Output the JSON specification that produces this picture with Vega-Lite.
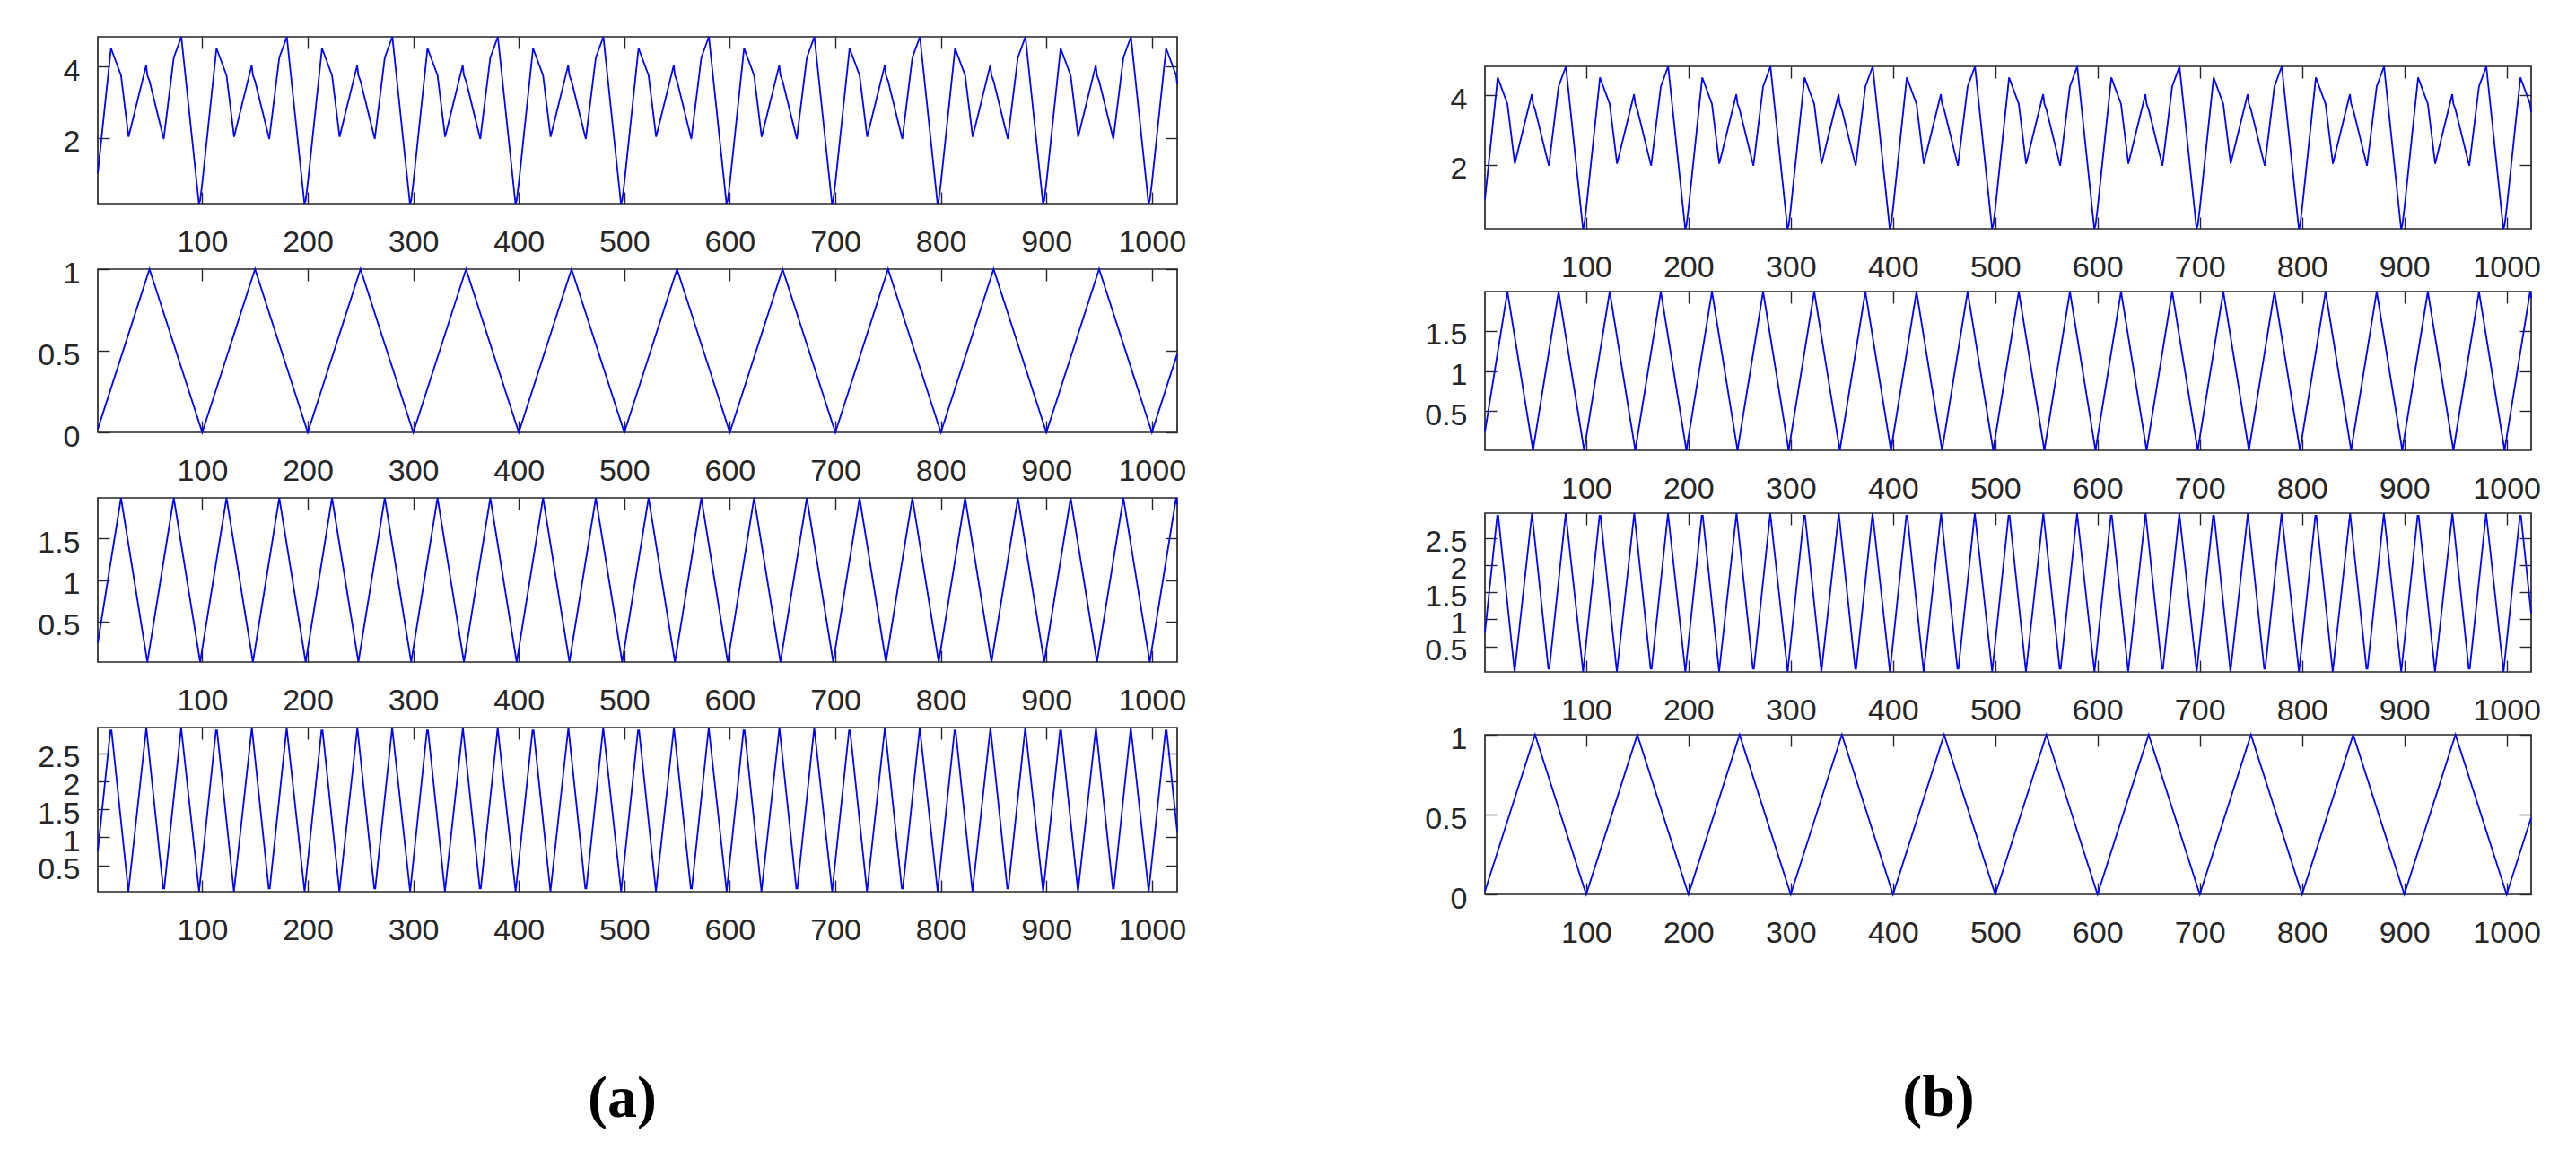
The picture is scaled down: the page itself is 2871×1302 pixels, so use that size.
{
  "$schema": "https://vega.github.io/schema/vega-lite/v6.json",
  "padding": {"left": 40, "top": 36, "right": 5, "bottom": 5},
  "datasets": {
    "S": [
      {"x":1,"y":1.01},
      {"x":13.5,"y":4.51},{"x":23,"y":3.75},{"x":30.17,"y":2.03},{"x":46.83,"y":4.03},{"x":48,"y":3.75},{"x":50,"y":3.59},{"x":63.5,"y":1.97},{"x":73,"y":4.25},{"x":80.17,"y":4.83},{"x":96.83,"y":0.16},{"x":98,"y":0.25},{"x":100,"y":0.73},
      {"x":113.5,"y":4.51},{"x":123,"y":3.75},{"x":130.17,"y":2.03},{"x":146.83,"y":4.03},{"x":148,"y":3.75},{"x":150,"y":3.59},{"x":163.5,"y":1.97},{"x":173,"y":4.25},{"x":180.17,"y":4.83},{"x":196.83,"y":0.16},{"x":198,"y":0.25},{"x":200,"y":0.73},
      {"x":213.5,"y":4.51},{"x":223,"y":3.75},{"x":230.17,"y":2.03},{"x":246.83,"y":4.03},{"x":248,"y":3.75},{"x":250,"y":3.59},{"x":263.5,"y":1.97},{"x":273,"y":4.25},{"x":280.17,"y":4.83},{"x":296.83,"y":0.16},{"x":298,"y":0.25},{"x":300,"y":0.73},
      {"x":313.5,"y":4.51},{"x":323,"y":3.75},{"x":330.17,"y":2.03},{"x":346.83,"y":4.03},{"x":348,"y":3.75},{"x":350,"y":3.59},{"x":363.5,"y":1.97},{"x":373,"y":4.25},{"x":380.17,"y":4.83},{"x":396.83,"y":0.16},{"x":398,"y":0.25},{"x":400,"y":0.73},
      {"x":413.5,"y":4.51},{"x":423,"y":3.75},{"x":430.17,"y":2.03},{"x":446.83,"y":4.03},{"x":448,"y":3.75},{"x":450,"y":3.59},{"x":463.5,"y":1.97},{"x":473,"y":4.25},{"x":480.17,"y":4.83},{"x":496.83,"y":0.16},{"x":498,"y":0.25},{"x":500,"y":0.73},
      {"x":513.5,"y":4.51},{"x":523,"y":3.75},{"x":530.17,"y":2.03},{"x":546.83,"y":4.03},{"x":548,"y":3.75},{"x":550,"y":3.59},{"x":563.5,"y":1.97},{"x":573,"y":4.25},{"x":580.17,"y":4.83},{"x":596.83,"y":0.16},{"x":598,"y":0.25},{"x":600,"y":0.73},
      {"x":613.5,"y":4.51},{"x":623,"y":3.75},{"x":630.17,"y":2.03},{"x":646.83,"y":4.03},{"x":648,"y":3.75},{"x":650,"y":3.59},{"x":663.5,"y":1.97},{"x":673,"y":4.25},{"x":680.17,"y":4.83},{"x":696.83,"y":0.16},{"x":698,"y":0.25},{"x":700,"y":0.73},
      {"x":713.5,"y":4.51},{"x":723,"y":3.75},{"x":730.17,"y":2.03},{"x":746.83,"y":4.03},{"x":748,"y":3.75},{"x":750,"y":3.59},{"x":763.5,"y":1.97},{"x":773,"y":4.25},{"x":780.17,"y":4.83},{"x":796.83,"y":0.16},{"x":798,"y":0.25},{"x":800,"y":0.73},
      {"x":813.5,"y":4.51},{"x":823,"y":3.75},{"x":830.17,"y":2.03},{"x":846.83,"y":4.03},{"x":848,"y":3.75},{"x":850,"y":3.59},{"x":863.5,"y":1.97},{"x":873,"y":4.25},{"x":880.17,"y":4.83},{"x":896.83,"y":0.16},{"x":898,"y":0.25},{"x":900,"y":0.73},
      {"x":913.5,"y":4.51},{"x":923,"y":3.75},{"x":930.17,"y":2.03},{"x":946.83,"y":4.03},{"x":948,"y":3.75},{"x":950,"y":3.59},{"x":963.5,"y":1.97},{"x":973,"y":4.25},{"x":980.17,"y":4.83},{"x":996.83,"y":0.16},{"x":998,"y":0.25},{"x":1000,"y":0.73},
      {"x":1013.5,"y":4.51},{"x":1023,"y":3.75},{"x":1024,"y":3.51}
    ],
    "T1": [
      {"x":1,"y":0.02},{"x":50,"y":1},{"x":100,"y":0},{"x":150,"y":1},{"x":200,"y":0},{"x":250,"y":1},{"x":300,"y":0},{"x":350,"y":1},{"x":400,"y":0},{"x":450,"y":1},{"x":500,"y":0},{"x":550,"y":1},{"x":600,"y":0},{"x":650,"y":1},{"x":700,"y":0},{"x":750,"y":1},{"x":800,"y":0},{"x":850,"y":1},{"x":900,"y":0},{"x":950,"y":1},{"x":1000,"y":0},{"x":1024,"y":0.48}
    ],
    "T2": [
      {"x":1,"y":0.24},
      {"x":23,"y":1.99},{"x":48,"y":0.01},{"x":73,"y":1.99},{"x":98,"y":0.01},
      {"x":123,"y":1.99},{"x":148,"y":0.01},{"x":173,"y":1.99},{"x":198,"y":0.01},
      {"x":223,"y":1.99},{"x":248,"y":0.01},{"x":273,"y":1.99},{"x":298,"y":0.01},
      {"x":323,"y":1.99},{"x":348,"y":0.01},{"x":373,"y":1.99},{"x":398,"y":0.01},
      {"x":423,"y":1.99},{"x":448,"y":0.01},{"x":473,"y":1.99},{"x":498,"y":0.01},
      {"x":523,"y":1.99},{"x":548,"y":0.01},{"x":573,"y":1.99},{"x":598,"y":0.01},
      {"x":623,"y":1.99},{"x":648,"y":0.01},{"x":673,"y":1.99},{"x":698,"y":0.01},
      {"x":723,"y":1.99},{"x":748,"y":0.01},{"x":773,"y":1.99},{"x":798,"y":0.01},
      {"x":823,"y":1.99},{"x":848,"y":0.01},{"x":873,"y":1.99},{"x":898,"y":0.01},
      {"x":923,"y":1.99},{"x":948,"y":0.01},{"x":973,"y":1.99},{"x":998,"y":0.01},
      {"x":1023,"y":1.99},{"x":1024,"y":1.91}
    ],
    "T3": [
      {"x":1,"y":0.75},
      {"x":13,"y":2.91},{"x":14,"y":2.91},{"x":30,"y":0.03},{"x":47,"y":2.96},{"x":63,"y":0.09},{"x":64,"y":0.09},{"x":80,"y":2.96},{"x":97,"y":0.03},
      {"x":113,"y":2.91},{"x":114,"y":2.91},{"x":130,"y":0.03},{"x":147,"y":2.96},{"x":163,"y":0.09},{"x":164,"y":0.09},{"x":180,"y":2.96},{"x":197,"y":0.03},
      {"x":213,"y":2.91},{"x":214,"y":2.91},{"x":230,"y":0.03},{"x":247,"y":2.96},{"x":263,"y":0.09},{"x":264,"y":0.09},{"x":280,"y":2.96},{"x":297,"y":0.03},
      {"x":313,"y":2.91},{"x":314,"y":2.91},{"x":330,"y":0.03},{"x":347,"y":2.96},{"x":363,"y":0.09},{"x":364,"y":0.09},{"x":380,"y":2.96},{"x":397,"y":0.03},
      {"x":413,"y":2.91},{"x":414,"y":2.91},{"x":430,"y":0.03},{"x":447,"y":2.96},{"x":463,"y":0.09},{"x":464,"y":0.09},{"x":480,"y":2.96},{"x":497,"y":0.03},
      {"x":513,"y":2.91},{"x":514,"y":2.91},{"x":530,"y":0.03},{"x":547,"y":2.96},{"x":563,"y":0.09},{"x":564,"y":0.09},{"x":580,"y":2.96},{"x":597,"y":0.03},
      {"x":613,"y":2.91},{"x":614,"y":2.91},{"x":630,"y":0.03},{"x":647,"y":2.96},{"x":663,"y":0.09},{"x":664,"y":0.09},{"x":680,"y":2.96},{"x":697,"y":0.03},
      {"x":713,"y":2.91},{"x":714,"y":2.91},{"x":730,"y":0.03},{"x":747,"y":2.96},{"x":763,"y":0.09},{"x":764,"y":0.09},{"x":780,"y":2.96},{"x":797,"y":0.03},
      {"x":813,"y":2.91},{"x":814,"y":2.91},{"x":830,"y":0.03},{"x":847,"y":2.96},{"x":863,"y":0.09},{"x":864,"y":0.09},{"x":880,"y":2.96},{"x":897,"y":0.03},
      {"x":913,"y":2.91},{"x":914,"y":2.91},{"x":930,"y":0.03},{"x":947,"y":2.96},{"x":963,"y":0.09},{"x":964,"y":0.09},{"x":980,"y":2.96},{"x":997,"y":0.03},
      {"x":1013,"y":2.91},{"x":1014,"y":2.91},{"x":1024,"y":1.11}
    ]
  },
  "hconcat": [
    {
      "vconcat": [
        {
          "data": {"name": "S"}, "width": 1203, "height": 186,
          "layer": [
            {"mark": {"type": "line"}, "encoding": {
              "x": {"field": "x", "type": "quantitative", "scale": {"domain": [1, 1024], "nice": false, "zero": false}, "axis": {"orient": "bottom", "values": [100,200,300,400,500,600,700,800,900,1000], "format": "d", "title": null}},
              "y": {"field": "y", "type": "quantitative", "scale": {"domain": [0.16, 4.83], "nice": false, "zero": false}, "axis": {"orient": "left", "values": [2, 4], "format": "~g", "title": null}}}},
            {"mark": {"type": "line", "opacity": 0}, "encoding": {
              "x": {"field": "x", "type": "quantitative", "axis": {"orient": "top", "values": [100,200,300,400,500,600,700,800,900,1000], "labels": false, "title": null}},
              "y": {"field": "y", "type": "quantitative", "axis": {"orient": "right", "values": [2, 4], "labels": false, "title": null}}}}
          ],
          "resolve": {"axis": {"x": "independent", "y": "independent"}}
        },
        {
          "data": {"name": "T1"}, "width": 1203, "height": 182,
          "layer": [
            {"mark": {"type": "line"}, "encoding": {
              "x": {"field": "x", "type": "quantitative", "scale": {"domain": [1, 1024], "nice": false, "zero": false}, "axis": {"orient": "bottom", "values": [100,200,300,400,500,600,700,800,900,1000], "format": "d", "title": null}},
              "y": {"field": "y", "type": "quantitative", "scale": {"domain": [0, 1], "nice": false, "zero": false}, "axis": {"orient": "left", "values": [0, 0.5, 1], "format": "~g", "title": null}}}},
            {"mark": {"type": "line", "opacity": 0}, "encoding": {
              "x": {"field": "x", "type": "quantitative", "axis": {"orient": "top", "values": [100,200,300,400,500,600,700,800,900,1000], "labels": false, "title": null}},
              "y": {"field": "y", "type": "quantitative", "axis": {"orient": "right", "values": [0, 0.5, 1], "labels": false, "title": null}}}}
          ],
          "resolve": {"axis": {"x": "independent", "y": "independent"}}
        },
        {
          "data": {"name": "T2"}, "width": 1203, "height": 183,
          "layer": [
            {"mark": {"type": "line"}, "encoding": {
              "x": {"field": "x", "type": "quantitative", "scale": {"domain": [1, 1024], "nice": false, "zero": false}, "axis": {"orient": "bottom", "values": [100,200,300,400,500,600,700,800,900,1000], "format": "d", "title": null}},
              "y": {"field": "y", "type": "quantitative", "scale": {"domain": [0.01, 1.99], "nice": false, "zero": false}, "axis": {"orient": "left", "values": [0.5, 1, 1.5], "format": "~g", "title": null}}}},
            {"mark": {"type": "line", "opacity": 0}, "encoding": {
              "x": {"field": "x", "type": "quantitative", "axis": {"orient": "top", "values": [100,200,300,400,500,600,700,800,900,1000], "labels": false, "title": null}},
              "y": {"field": "y", "type": "quantitative", "axis": {"orient": "right", "values": [0.5, 1, 1.5], "labels": false, "title": null}}}}
          ],
          "resolve": {"axis": {"x": "independent", "y": "independent"}}
        },
        {
          "data": {"name": "T3"}, "width": 1203, "height": 183,
          "layer": [
            {"mark": {"type": "line"}, "encoding": {
              "x": {"field": "x", "type": "quantitative", "scale": {"domain": [1, 1024], "nice": false, "zero": false}, "axis": {"orient": "bottom", "values": [100,200,300,400,500,600,700,800,900,1000], "format": "d", "title": "(a)", "titleX": 584, "titleY": 250}},
              "y": {"field": "y", "type": "quantitative", "scale": {"domain": [0.03, 2.96], "nice": false, "zero": false}, "axis": {"orient": "left", "values": [0.5, 1, 1.5, 2, 2.5], "format": "~g", "title": null}}}},
            {"mark": {"type": "line", "opacity": 0}, "encoding": {
              "x": {"field": "x", "type": "quantitative", "axis": {"orient": "top", "values": [100,200,300,400,500,600,700,800,900,1000], "labels": false, "title": null}},
              "y": {"field": "y", "type": "quantitative", "axis": {"orient": "right", "values": [0.5, 1, 1.5, 2, 2.5], "labels": false, "title": null}}}}
          ],
          "resolve": {"axis": {"x": "independent", "y": "independent"}}
        }
      ],
      "spacing": 73,
      "bounds": "flush"
    },
    {
      "vconcat": [
        {"data": {"values": [{"a": 0}]}, "width": 1, "height": 1, "mark": {"type": "point", "opacity": 0}, "view": {"stroke": null}},
        {
          "vconcat": [
            {
              "data": {"name": "S"}, "width": 1166, "height": 181,
              "layer": [
                {"mark": {"type": "line"}, "encoding": {
                  "x": {"field": "x", "type": "quantitative", "scale": {"domain": [1, 1024], "nice": false, "zero": false}, "axis": {"orient": "bottom", "values": [100,200,300,400,500,600,700,800,900,1000], "format": "d", "title": null}},
                  "y": {"field": "y", "type": "quantitative", "scale": {"domain": [0.16, 4.83], "nice": false, "zero": false}, "axis": {"orient": "left", "values": [2, 4], "format": "~g", "title": null}}}},
                {"mark": {"type": "line", "opacity": 0}, "encoding": {
                  "x": {"field": "x", "type": "quantitative", "axis": {"orient": "top", "values": [100,200,300,400,500,600,700,800,900,1000], "labels": false, "title": null}},
                  "y": {"field": "y", "type": "quantitative", "axis": {"orient": "right", "values": [2, 4], "labels": false, "title": null}}}}
              ],
              "resolve": {"axis": {"x": "independent", "y": "independent"}}
            },
            {
              "data": {"name": "T2"}, "width": 1166, "height": 177,
              "layer": [
                {"mark": {"type": "line"}, "encoding": {
                  "x": {"field": "x", "type": "quantitative", "scale": {"domain": [1, 1024], "nice": false, "zero": false}, "axis": {"orient": "bottom", "values": [100,200,300,400,500,600,700,800,900,1000], "format": "d", "title": null}},
                  "y": {"field": "y", "type": "quantitative", "scale": {"domain": [0.01, 1.99], "nice": false, "zero": false}, "axis": {"orient": "left", "values": [0.5, 1, 1.5], "format": "~g", "title": null}}}},
                {"mark": {"type": "line", "opacity": 0}, "encoding": {
                  "x": {"field": "x", "type": "quantitative", "axis": {"orient": "top", "values": [100,200,300,400,500,600,700,800,900,1000], "labels": false, "title": null}},
                  "y": {"field": "y", "type": "quantitative", "axis": {"orient": "right", "values": [0.5, 1, 1.5], "labels": false, "title": null}}}}
              ],
              "resolve": {"axis": {"x": "independent", "y": "independent"}}
            },
            {
              "data": {"name": "T3"}, "width": 1166, "height": 177,
              "layer": [
                {"mark": {"type": "line"}, "encoding": {
                  "x": {"field": "x", "type": "quantitative", "scale": {"domain": [1, 1024], "nice": false, "zero": false}, "axis": {"orient": "bottom", "values": [100,200,300,400,500,600,700,800,900,1000], "format": "d", "title": null}},
                  "y": {"field": "y", "type": "quantitative", "scale": {"domain": [0.03, 2.96], "nice": false, "zero": false}, "axis": {"orient": "left", "values": [0.5, 1, 1.5, 2, 2.5], "format": "~g", "title": null}}}},
                {"mark": {"type": "line", "opacity": 0}, "encoding": {
                  "x": {"field": "x", "type": "quantitative", "axis": {"orient": "top", "values": [100,200,300,400,500,600,700,800,900,1000], "labels": false, "title": null}},
                  "y": {"field": "y", "type": "quantitative", "axis": {"orient": "right", "values": [0.5, 1, 1.5, 2, 2.5], "labels": false, "title": null}}}}
              ],
              "resolve": {"axis": {"x": "independent", "y": "independent"}}
            },
            {
              "data": {"name": "T1"}, "width": 1166, "height": 178,
              "layer": [
                {"mark": {"type": "line"}, "encoding": {
                  "x": {"field": "x", "type": "quantitative", "scale": {"domain": [1, 1024], "nice": false, "zero": false}, "axis": {"orient": "bottom", "values": [100,200,300,400,500,600,700,800,900,1000], "format": "d", "title": "(b)", "titleX": 505, "titleY": 246}},
                  "y": {"field": "y", "type": "quantitative", "scale": {"domain": [0, 1], "nice": false, "zero": false}, "axis": {"orient": "left", "values": [0, 0.5, 1], "format": "~g", "title": null}}}},
                {"mark": {"type": "line", "opacity": 0}, "encoding": {
                  "x": {"field": "x", "type": "quantitative", "axis": {"orient": "top", "values": [100,200,300,400,500,600,700,800,900,1000], "labels": false, "title": null}},
                  "y": {"field": "y", "type": "quantitative", "axis": {"orient": "right", "values": [0, 0.5, 1], "labels": false, "title": null}}}}
              ],
              "resolve": {"axis": {"x": "independent", "y": "independent"}}
            }
          ],
          "spacing": 70,
          "bounds": "flush"
        }
      ],
      "spacing": 32,
      "bounds": "flush"
    }
  ],
  "spacing": 263,
  "bounds": "full",
  "config": {
    "background": "white",
    "view": {"stroke": "#262626", "strokeWidth": 1.7},
    "line": {"color": "#0000ff", "strokeWidth": 1.8},
    "axis": {"grid": false, "domain": false, "ticks": true, "tickSize": -13, "tickWidth": 1.4, "tickColor": "#262626", "labelFont": "Liberation Sans", "labelFontSize": 34, "labelColor": "#262626", "labelFlush": false, "labelOverlap": false, "labelBound": false, "titleFont": "Liberation Serif", "titleFontSize": 66, "titleFontWeight": "bold", "titleColor": "#000000", "titleBaseline": "alphabetic", "titleAlign": "center", "titleAngle": 0},
    "axisX": {"labelPadding": 66, "labelBaseline": "alphabetic"},
    "axisY": {"labelPadding": 33, "labelOffset": 5, "labelBaseline": "middle"}
  }
}
